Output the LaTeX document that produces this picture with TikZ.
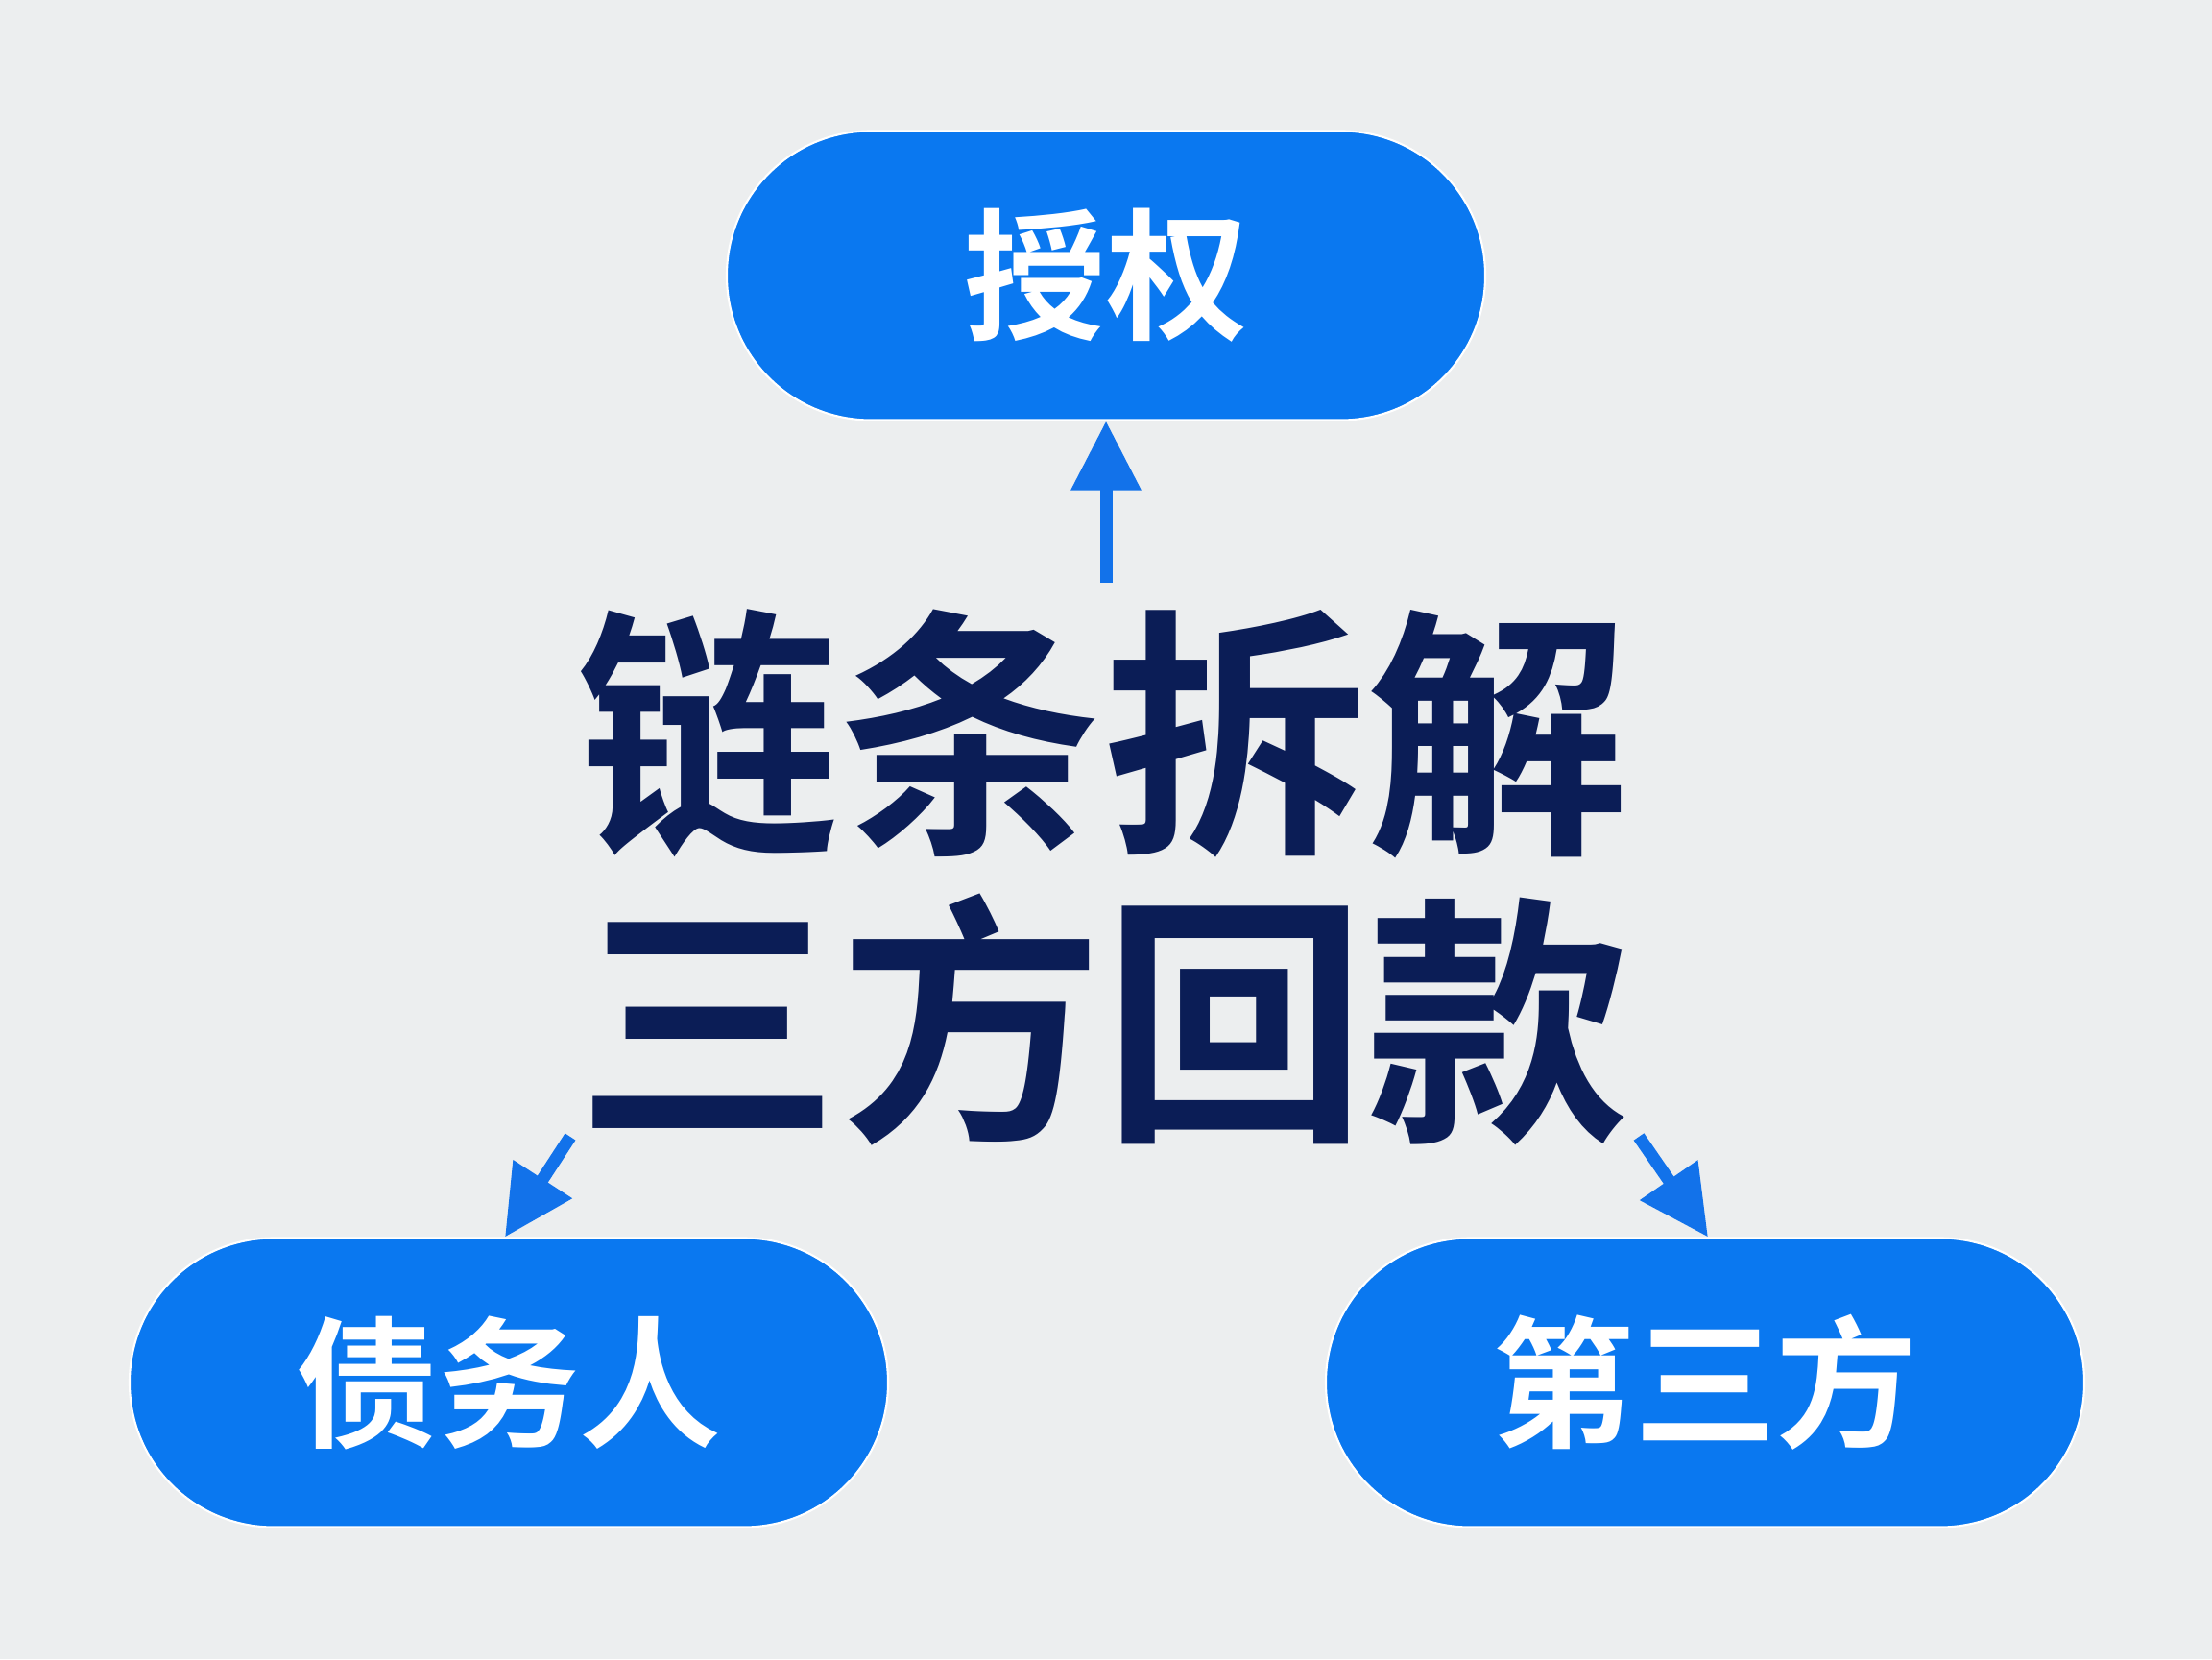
\documentclass[tikz,border=0pt]{standalone}
\usepackage{fontspec}
\usepackage{tikz}
\usetikzlibrary{arrows.meta, positioning}
\newfontfamily\cjk{Noto Sans CJK SC}[BoldFont={Noto Sans CJK SC Bold}]
\definecolor{bgcol}{HTML}{ECEEEF}
\definecolor{pillblue}{HTML}{0A78F0}
\definecolor{arrowblue}{HTML}{1272EA}
\definecolor{navy}{HTML}{0B1D56}

\begin{document}
\begin{tikzpicture}[pill/.style={rectangle,rounded corners=1.5cm,fill=pillblue,draw=white,line width=0.6pt,minimum width=7.9cm,minimum height=3.01cm,text=white,font=\cjk\bfseries\fontsize{42}{48}\selectfont},flow/.style={arrowblue,line width=0.13cm,-{Triangle[width=0.7cm,length=0.72cm]}}]
    \useasboundingbox[fill=bgcol] (0,0) rectangle (23.04,17.28);

    \node[pill] (auth) at (11.52,14.41) {授权};
    \node[pill] (debtor) at (5.30,2.88) {债务人};
    \node[pill] (third) at (17.76,2.88) {第三方};
    \node[text=navy,align=center,font=\cjk\bfseries\fontsize{78}{85}\selectfont] (title) at (11.49,8.14) {链条拆解\\三方回款};

    \coordinate (up) at (11.52,11.21);
    \coordinate (dl) at (5.94,5.44);
    \coordinate (dr) at (17.07,5.44);

    \draw[flow] (up) -- (auth.south);
    \draw[flow] (dl) -- ([xshift=-0.04cm]debtor.north);
    \draw[flow] (dr) -- ([xshift=0.03cm]third.north);
  \end{tikzpicture}
\end{document}
